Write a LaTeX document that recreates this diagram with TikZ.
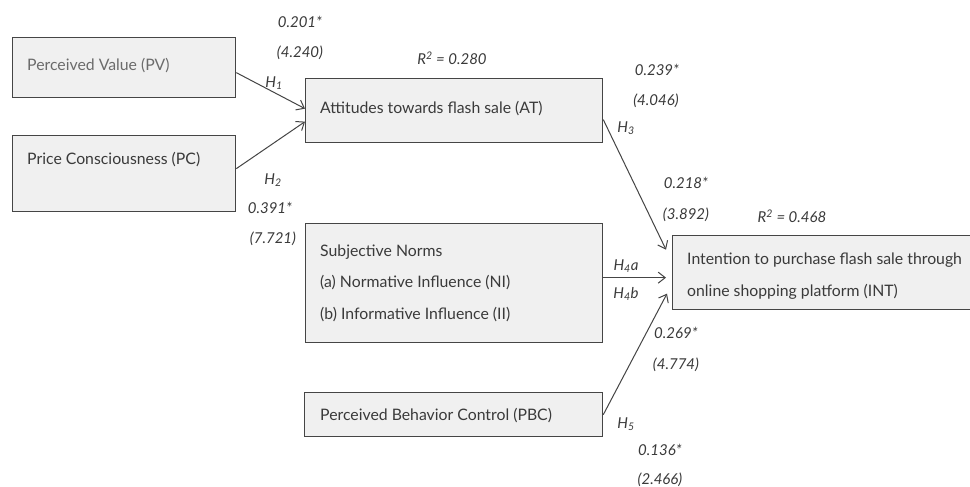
\documentclass[tikz,border=0pt]{standalone}
\usepackage{fontspec}
\setmainfont{Lato}
\usetikzlibrary{arrows.meta,calc}
\definecolor{boxfill}{HTML}{F0F0F0}
\definecolor{boxline}{HTML}{454545}
\definecolor{txt}{HTML}{3A3A3A}
\tikzset{
  box/.style={draw=boxline, fill=boxfill, line width=1.3pt, rectangle, anchor=north west, inner sep=0pt},
  boxtext/.style={anchor=west, inner sep=0pt, text=txt, font=\fontsize{15.8}{18}\selectfont},
  lab/.style={inner sep=0pt, text=txt, font=\fontsize{15}{17}\selectfont\itshape},
  conn/.style={draw=boxline, line width=1pt, -{Straight Barb[length=7pt,width=11pt,line width=1pt]}}
}
\begin{document}
\begin{tikzpicture}[x=1pt,y=-1pt]
\clip (0,0) rectangle (970,487);
\useasboundingbox (0,0) rectangle (970,487);
\fill[white] (0,0) rectangle (970,487);

% boxes
\node[box, minimum width=223pt, minimum height=60pt] (PV) at (12,37) {};
\node[box, minimum width=223pt, minimum height=76pt] (PC) at (12,135) {};
\node[box, minimum width=297pt, minimum height=64pt] (AT) at (305,78) {};
\node[box, minimum width=297pt, minimum height=119pt] (SN) at (305,223) {};
\node[box, minimum width=298pt, minimum height=44pt] (PBC) at (304,392) {};
\node[box, minimum width=310pt, minimum height=74pt] (INT) at (672,235) {};

% box texts
\node[boxtext, text=txt!75] (tPV) at (27,66) {Perceived Value (PV)};
\node[boxtext] (tPC) at (27,160) {Price Consciousness (PC)};
\node[boxtext] (tAT) at (320,109) {Attitudes towards flash sale (AT)};
\node[boxtext] (tSN1) at (320,252) {Subjective Norms};
\node[boxtext] (tSN2) at (320,283) {(a) Normative Influence (NI)};
\node[boxtext] (tSN3) at (320,315) {(b) Informative Influence (II)};
\node[boxtext] (tPBC) at (320,416) {Perceived Behavior Control (PBC)};
\node[boxtext] (tINT1) at (687,260) {Intention to purchase flash sale through};
\node[boxtext] (tINT2) at (687,292) {online shopping platform (INT)};

% connectors
\draw[conn] ([yshift=-5pt]PV.east) -- ([yshift=2pt]AT.west);
\draw[conn] ([yshift=5pt]PC.east) -- ([yshift=-11pt]AT.west);
\draw[conn] ([yshift=-9pt]AT.east) -- ([xshift=-6pt,yshift=23pt]INT.west);
\draw[conn] ([yshift=5.5pt]SN.east) -- ([xshift=-6pt,yshift=5.5pt]SN.east -| INT.west);
\draw[conn] (PBC.east) -- ([xshift=-5pt,yshift=-21pt]INT.west);

% labels
\node[lab] (l1a) at (300,22) {0.201*};
\node[lab] (l1b) at (300,53) {(4.240)};
\node[lab] (h1) at (274,83) {H\textsubscript{1}};
\node[lab] (r1) at (452,58) {R\textsuperscript{2} = 0.280};
\node[lab] (h2) at (273,180) {H\textsubscript{2}};
\node[lab] (l2a) at (270,208) {0.391*};
\node[lab] (l2b) at (273,239) {(7.721)};
\node[lab] (l3a) at (657,70) {0.239*};
\node[lab] (l3b) at (656,101) {(4.046)};
\node[lab] (h3) at (626,128) {H\textsubscript{3}};
\node[lab] (l4a) at (686,183) {0.218*};
\node[lab] (l4b) at (686,215) {(3.892)};
\node[lab] (r2) at (792,216) {R\textsuperscript{2} = 0.468};
\node[lab] (h4a) at (626,266) {H\textsubscript{4}a};
\node[lab] (h4b) at (626,294) {H\textsubscript{4}b};
\node[lab] (l5a) at (676,333) {0.269*};
\node[lab] (l5b) at (676,365) {(4.774)};
\node[lab] (h5) at (626,424) {H\textsubscript{5}};
\node[lab] (l6a) at (660,450) {0.136*};
\node[lab] (l6b) at (660,480) {(2.466)};
\end{tikzpicture}
\end{document}
